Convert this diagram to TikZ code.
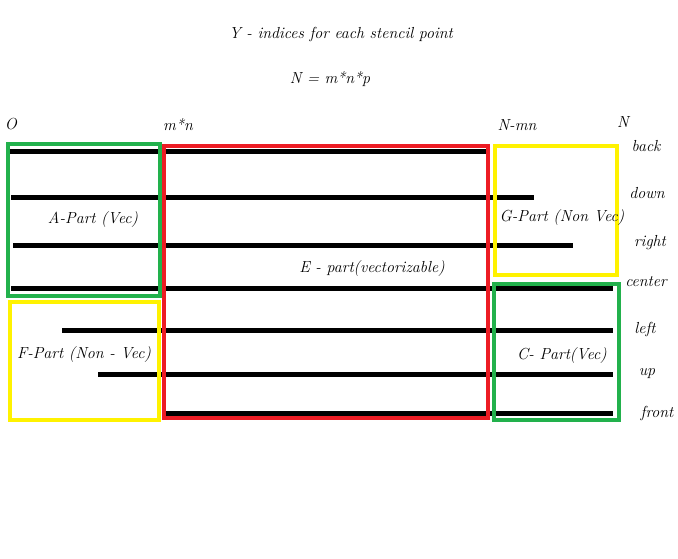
\documentclass[tikz,border=0pt]{standalone}
\definecolor{pgreen}{RGB}{34,177,76}
\definecolor{pred}{RGB}{237,28,36}
\definecolor{pyellow}{RGB}{255,242,0}
\tikzset{
  stencil/.style={line width=5pt},
  part/.style={line width=4.5pt},
  lbl/.style={font=\itshape\fontsize{16}{18}\selectfont, inner sep=1pt}
}
\begin{document}
\begin{tikzpicture}[x=1pt,y=-1pt]
    \useasboundingbox (0,0) rectangle (678,559);
    % titles
    \node[lbl] (title) at (341,35) {Y - indices for each stencil point};
    \node[lbl] (size) at (330,79) {N = m*n*p};
    % index marks
    \node[lbl] (zero) at (11,124) {O};
    \node[lbl] (mn) at (178,125) {m*n};
    \node[lbl] (nmn) at (517,125) {N-mn};
    \node[lbl] (nn) at (623,122) {N};
    % stencil points: y / start / end / name / label position
    \foreach \y/\a/\b/\name/\lx/\ly in {152/10/487/back/646/146, 198/11/534/down/647/193,
        245/13/573/right/650/243, 288/11/613/center/646/282, 330/62/613/left/645/329,
        374/98/613/up/647/374, 413/165/613/front/657/413} {
        \draw[stencil] (\a,\y) -- (\b,\y);
        \node[lbl] (\name) at (\lx,\ly) {\name};
    }
    % parts
    \draw[part, pgreen] (8,144) rectangle (160,296);
    \draw[part, pyellow] (10,302) rectangle (159,420);
    \draw[part, pred] (164,146) rectangle (488,418);
    \draw[part, pyellow] (495,146) rectangle (617,275);
    \draw[part, pgreen] (494,284) rectangle (619,420);
    \node[lbl] (apart) at (93,220) {A-Part (Vec)};
    \node[lbl] (fpart) at (84,355) {F-Part (Non - Vec)};
    \node[lbl] (epart) at (372,269) {E - part(vectorizable)};
    \node[lbl] (gpart) at (562,218) {G-Part (Non Vec)};
    \node[lbl] (cpart) at (562,356) {C- Part(Vec)};
\end{tikzpicture}
\end{document}
